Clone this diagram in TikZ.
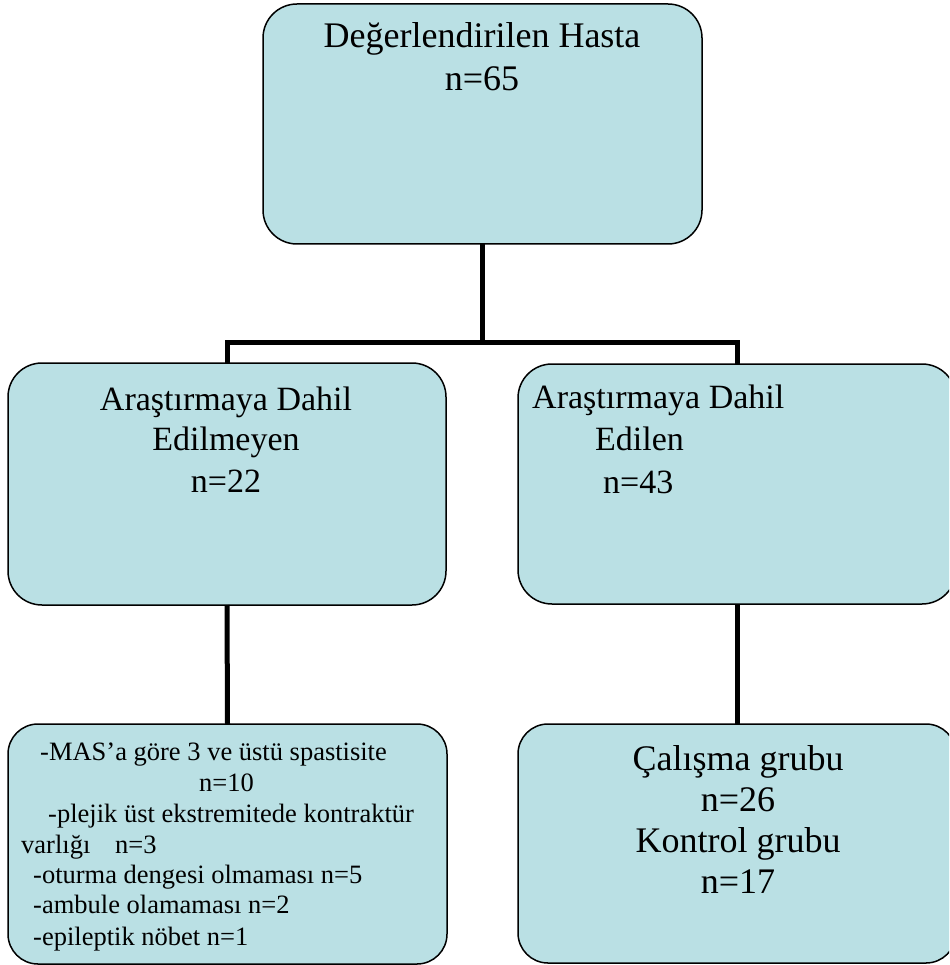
\documentclass[tikz,border=0pt]{standalone}
\usepackage{fontspec}
\setmainfont{Liberation Serif}
\definecolor{boxfill}{RGB}{186,224,228}
\begin{document}
\begin{tikzpicture}[x=1pt,y=-1pt,
  box/.style={draw=black,line width=1.5pt,fill=boxfill,rounded corners=34pt,inner sep=0pt,outer sep=0pt},
  conn/.style={draw=black,line width=5pt},
  big/.style={inner sep=0pt,anchor=base,font=\fontsize{36}{43}\selectfont},
  mid/.style={inner sep=0pt,anchor=base,font=\fontsize{34}{41}\selectfont},
  midw/.style={inner sep=0pt,anchor=base west,font=\fontsize{34}{41}\selectfont},
  small/.style={inner sep=0pt,anchor=base west,font=\fontsize{26.5}{31}\selectfont},
  smallc/.style={inner sep=0pt,anchor=base,font=\fontsize{26.5}{31}\selectfont}]
\useasboundingbox (0,0) rectangle (949,965);
\clip (0,0) rectangle (949,965);
% boxes
\node[box,minimum width=439pt,minimum height=240pt] (top) at (482.5,124) {};
\node[box,minimum width=438pt,minimum height=242pt] (lm) at (227,484) {};
\node[box,minimum width=438pt,minimum height=240pt] (rm) at (737,484) {};
\node[box,rounded corners=30pt,minimum width=439pt,minimum height=240pt] (bl) at (227.5,844) {};
\node[box,rounded corners=30pt,minimum width=438pt,minimum height=239pt] (br) at (737,843.5) {};
% connectors
\coordinate (hub) at (482.5,342);
\draw[conn] (top.south) -- (hub);
\draw[conn] (lm.north) -- (lm.north |- hub) -- (rm.north |- hub) -- (rm.north);
\draw[conn] (lm.south) -- (bl.north);
\draw[conn] (rm.south) -- (br.north);
% texts
\node[big] (t1) at (482,48) {Değerlendirilen Hasta};
\node[big] (t2) at (482,91) {n=65};
\node[mid] (l1) at (226,410) {Araştırmaya Dahil};
\node[mid] (l2) at (226,450) {Edilmeyen};
\node[mid] (l3) at (226,492) {n=22};
\node[midw] (r1) at (532,408) {Araştırmaya Dahil};
\node[midw] (r2) at (595,450) {Edilen};
\node[midw] (r3) at (603,493) {n=43};
\node[big] (b1) at (738,770) {Çalışma grubu};
\node[big] (b2) at (738,811) {n=26};
\node[big] (b3) at (738,852) {Kontrol grubu};
\node[big] (b4) at (738,893) {n=17};
\node[small] (s1) at (40,760) {-MAS’a göre 3 ve üstü spastisite};
\node[smallc] (s2) at (226.5,791) {n=10};
\node[small] (s3) at (48,822) {-plejik üst ekstremitede kontraktür};
\node[small] (s4) at (21,853) {varlığı};
\node[small] (s4b) at (115,853) {n=3};
\node[small] (s5) at (33,883) {-oturma dengesi olmaması n=5};
\node[small] (s6) at (33,913) {-ambule olamaması n=2};
\node[small] (s7) at (33,945) {-epileptik nöbet n=1};
\end{tikzpicture}
\end{document}
